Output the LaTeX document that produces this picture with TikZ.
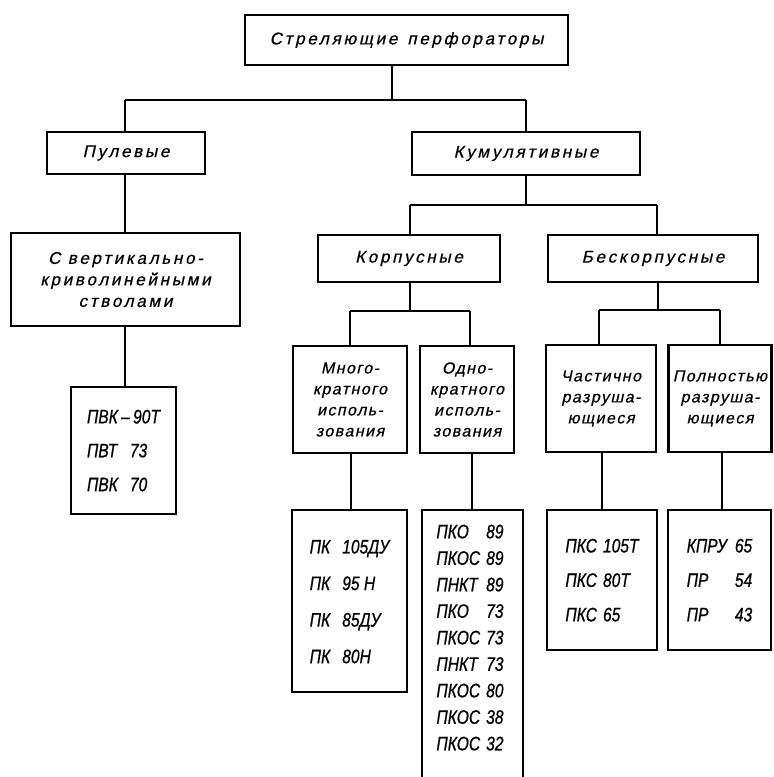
\documentclass[tikz,border=0pt]{standalone}
\usepackage{fontspec}
\setmainfont{Liberation Sans}
\newfontfamily\hdfont[LetterSpace=16,FakeSlant=0.22,FakeBold=0.6]{Liberation Sans}
\newfontfamily\smfont[LetterSpace=9,FakeSlant=0.22,FakeBold=0.6]{Liberation Sans}
\newfontfamily\cdfont[FakeStretch=0.8,FakeBold=0.8]{Liberation Sans}
\begin{document}
\begin{tikzpicture}[x=1pt,y=-1pt,
  box/.style={draw, line width=2.4pt, inner sep=0pt, align=center},
  link/.style={line width=1.4pt},
  hd/.style={font=\hdfont\fontsize{17}{21.5}\selectfont},
  sm/.style={font=\smfont\fontsize{16}{21}\selectfont},
  cd/.style={font=\cdfont\itshape\fontsize{19.5}{26.5}\selectfont}]
\useasboundingbox (0,0) rectangle (774,777);
% level 0
\node[box,hd,minimum width=323pt,minimum height=50pt] (top) at (406.5,40) {Стреляющие\hspace{10pt}перфораторы};
% level 1
\node[box,hd,minimum width=158pt,minimum height=42pt] (pul) at (126,153) {Пулевые};
\node[box,hd,minimum width=228pt,minimum height=43pt] (kum) at (526,153.5) {Кумулятивные};
% left branch
\node[box,hd,minimum width=229pt,minimum height=93pt] (sver) at (125.5,279.5) {С вертикально-\\криволинейными\\стволами};
\node[box,cd,minimum width=105pt,minimum height=127pt] (pvk) at (123.5,450.5)
  {\renewcommand\arraystretch{1.28}\begin{tabular}{@{}l@{\hspace{12pt}}l@{}}\multicolumn{2}{@{}l@{}}{ПВК\,–\,90Т}\\ПВТ&73\\ПВК&70\end{tabular}};
% level 2
\node[box,hd,minimum width=182pt,minimum height=47pt] (korp) at (409,258.5) {Корпусные};
\node[box,hd,minimum width=210pt,minimum height=47pt] (besk) at (653,258.5) {Бескорпусные};
% level 3
\node[box,sm,minimum width=114pt,minimum height=107pt] (mnogo) at (350,399.5) {Много-\\кратного\\исполь-\\зования};
\node[box,sm,minimum width=94pt,minimum height=107pt] (odno) at (467,399.5) {Одно-\\кратного\\исполь-\\зования};
\node[box,sm,minimum width=110pt,minimum height=107pt] (chast) at (601,398.5) {Частично\\разруша-\\ющиеся};
\node[box,sm,minimum width=103pt,minimum height=107pt] (poln) at (720,398.5) {Полностью\\разруша-\\ющиеся};
% level 4
\node[box,cd,minimum width=115pt,minimum height=182pt] (pk) at (349.5,601)
  {\renewcommand\arraystretch{1.38}\begin{tabular}{@{}l@{\hspace{12pt}}l@{}}ПК&105ДУ\\ПК&95 Н\\ПК&85ДУ\\ПК&80Н\end{tabular}};
\begin{scope}
\clip (0,0) rectangle (774,777);
\node[box,minimum width=101pt,minimum height=300pt,anchor=north] (pko) at (472.5,509) {};
\end{scope}
\node[cd] (pkotext) at (470,639)
  {\begin{tabular}{@{}l@{\hspace{6pt}}l@{}}ПКО&89\\ПКОС&89\\ПНКТ&89\\ПКО&73\\ПКОС&73\\ПНКТ&73\\ПКОС&80\\ПКОС&38\\ПКОС&32\end{tabular}};
\node[box,cd,minimum width=110pt,minimum height=140pt] (pks) at (602,580)
  {\renewcommand\arraystretch{1.3}\begin{tabular}{@{}l@{\hspace{6pt}}l@{}}ПКС&105Т\\ПКС&80Т\\ПКС&65\end{tabular}};
\node[box,cd,minimum width=103pt,minimum height=140pt] (kpru) at (719.5,580)
  {\renewcommand\arraystretch{1.3}\begin{tabular}{@{}l@{\hspace{8pt}}l@{}}КПРУ&65\\ПР&54\\ПР&43\end{tabular}};
% junction coordinates
\coordinate (j1) at (392,100);
\coordinate (jl) at (125,100);
\coordinate (jr) at (526,100);
\coordinate (k0) at (526,205);
\coordinate (k1) at (410,205);
\coordinate (k2) at (657,205);
\coordinate (c0) at (410,311);
\coordinate (c1) at (350,311);
\coordinate (c2) at (470,311);
\coordinate (b0) at (658,310);
\coordinate (b1) at (599,310);
\coordinate (b2) at (720,310);
\coordinate (xm) at (351,0);
\coordinate (xo) at (472,0);
\coordinate (xc) at (602,0);
\coordinate (xp) at (722,0);
% connectors
\draw[link] (top.south -| j1) -- (j1);
\draw[link] (jl) -- (jr);
\draw[link] (jl) -- (pul.north -| jl);
\draw[link] (jr) -- (kum.north -| jr);
\draw[link] (pul.south -| jl) -- (sver.north -| jl);
\draw[link] (sver.south -| jl) -- (pvk.north -| jl);
\draw[link] (kum.south -| k0) -- (k0);
\draw[link] (k1) -- (k2);
\draw[link] (k1) -- (korp.north -| k1);
\draw[link] (k2) -- (besk.north -| k2);
\draw[link] (korp.south -| c0) -- (c0);
\draw[link] (c1) -- (c2);
\draw[link] (c1) -- (mnogo.north -| c1);
\draw[link] (c2) -- (odno.north -| c2);
\draw[link] (besk.south -| b0) -- (b0);
\draw[link] (b1) -- (b2);
\draw[link] (b1) -- (chast.north -| b1);
\draw[link] (b2) -- (poln.north -| b2);
\draw[link] (mnogo.south -| xm) -- (pk.north -| xm);
\draw[link] (odno.south -| xo) -- (pko.north -| xo);
\draw[link] (chast.south -| xc) -- (pks.north -| xc);
\draw[link] (poln.south -| xp) -- (kpru.north -| xp);
\end{tikzpicture}
\end{document}
